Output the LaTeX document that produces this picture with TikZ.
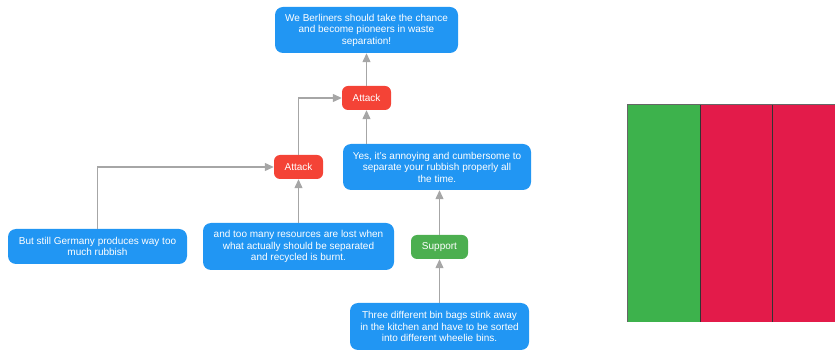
\documentclass[tikz,border=0pt]{standalone}
\usepackage{fontspec}
\setmainfont{Liberation Sans}
\usetikzlibrary{arrows.meta}
\definecolor{cblue}{HTML}{2196F3}
\definecolor{cred}{HTML}{F44336}
\definecolor{cgreen}{HTML}{4CAF50}
\definecolor{lgray}{HTML}{A6A6A6}
\definecolor{bargreen}{HTML}{3DB24C}
\definecolor{barred}{HTML}{E31B4A}
\begin{document}
\begin{tikzpicture}[x=1pt,y=-1pt,
  box/.style={rectangle,rounded corners=8pt,fill=cblue,text=white,align=center,
    font=\fontsize{10}{11.5}\selectfont,inner sep=0pt},
  tag/.style={rectangle,rounded corners=6pt,text=white,align=center,
    font=\fontsize{10}{11.5}\selectfont,inner sep=0pt,minimum height=24pt},
  conn/.style={draw=lgray,line width=1.2pt,-{Triangle[length=9pt,width=8pt]}}]
\useasboundingbox (0,0) rectangle (835,352);
\node[box,minimum width=183pt,minimum height=46pt] (top) at (366.5,30)
  {We Berliners should take the chance\\and become pioneers in waste\\separation!};
\node[tag,fill=cred,minimum width=49pt] (att1) at (366.5,98) {Attack};
\node[tag,fill=cred,minimum width=49pt] (att2) at (298.5,167) {Attack};
\node[box,minimum width=188pt,minimum height=46pt] (yes) at (437,167)
  {Yes, it's annoying and cumbersome to\\separate your rubbish properly all\\the time.};
\node[tag,fill=cgreen,minimum width=57pt] (sup) at (439.5,247) {Support};
\node[box,minimum width=179pt,minimum height=35pt] (but) at (97.5,246.5)
  {But still Germany produces way too\\much rubbish};
\node[box,minimum width=191pt,minimum height=47pt] (res) at (298.5,246.5)
  {and too many resources are lost when\\what actually should be separated\\and recycled is burnt.};
\node[box,minimum width=179pt,minimum height=47pt] (three) at (439.5,326.5)
  {Three different bin bags stink away\\in the kitchen and have to be sorted\\into different wheelie bins.};
% connectors
\draw[conn] (att1.north) -- (top.south);
\draw[conn] (att2.north) |- (att1.west);
\draw[conn] (yes.north -| att1.south) -- (att1.south);
\draw[conn] (but.north) |- (att2.west);
\draw[conn] (res.north) -- (att2.south);
\draw[conn] (sup.north) -- (sup.north |- yes.south);
\draw[conn] (three.north) -- (sup.south);
% bars
\fill[bargreen] (627,104) rectangle (700,322);
\fill[barred] (700,104) rectangle (835,322);
\draw[black!80,line width=0.8pt] (700,104) -- (700,322);
\draw[black!80,line width=0.8pt] (772,104) -- (772,322);
\draw[black!60,line width=0.8pt] (627,322) -- (627,104) -- (835,104);
\end{tikzpicture}
\end{document}
